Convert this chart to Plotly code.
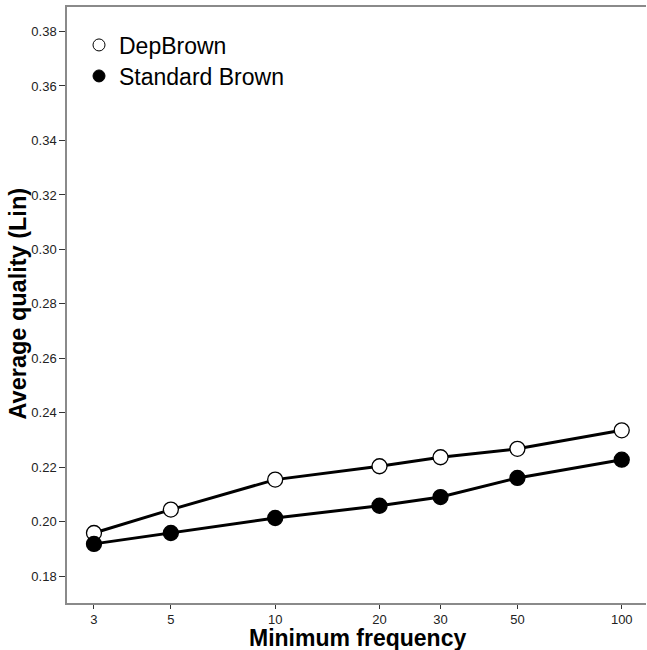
import plotly.graph_objects as go

freq = [3, 5, 10, 20, 30, 50, 100]
dep_brown = [0.1959, 0.2045, 0.2155, 0.2204, 0.2237, 0.2268, 0.2336]
std_brown = [0.1919, 0.1959, 0.2014, 0.2059, 0.2091, 0.2161, 0.2228]
y_ticks = [0.18, 0.20, 0.22, 0.24, 0.26, 0.28, 0.30, 0.32, 0.34, 0.36, 0.38]
series_names = ["DepBrown", "Standard Brown"]

FONT = "Liberation Sans, Arial, Helvetica, sans-serif"

fig = go.Figure()
# data lines
fig.add_trace(go.Scatter(x=freq, y=dep_brown, mode="lines+markers", showlegend=False,
                         line=dict(color="black", width=3),
                         marker=dict(symbol="circle", size=15, color="white",
                                     line=dict(color="black", width=1.3))))
fig.add_trace(go.Scatter(x=freq, y=std_brown, mode="lines+markers", showlegend=False,
                         line=dict(color="black", width=3),
                         marker=dict(symbol="circle", size=15, color="black",
                                     line=dict(color="black", width=1.3))))
# legend-only entries
fig.add_trace(go.Scatter(x=[None], y=[None], mode="markers", name=series_names[0],
                         legend="legend",
                         marker=dict(symbol="circle", size=12, color="white",
                                     line=dict(color="black", width=1))))
fig.add_trace(go.Scatter(x=[None], y=[None], mode="markers", name=series_names[1],
                         legend="legend2",
                         marker=dict(symbol="circle", size=12, color="black",
                                     line=dict(color="black", width=1))))

L, R, T, B = 67, 1, 7, 47
W, H = 647, 650
pw = W - L - R
ph = H - T - B

def px_x(p):
    return (p - L) / pw

def px_y(p):
    return (H - B - p) / ph

leg_common = dict(xanchor="left", yanchor="middle",
                  bgcolor="rgba(0,0,0,0)", borderwidth=0,
                  font=dict(family=FONT, size=23, color="black"),
                  itemsizing="trace")

fig.update_layout(
    width=W, height=H,
    margin=dict(l=L, r=R, t=T, b=B, pad=0),
    paper_bgcolor="white", plot_bgcolor="white",
    font=dict(family=FONT, color="black"),
    showlegend=True,
    legend=dict(x=px_x(79), y=px_y(45), **leg_common),
    legend2=dict(x=px_x(79), y=px_y(76), **leg_common),
    xaxis=dict(type="log", range=[0.3993, 2.070],
               tickmode="array", tickvals=freq, ticktext=[str(f) for f in freq],
               showgrid=False, zeroline=False,
               showline=True, linecolor="#8a8a8a", linewidth=1.5, mirror=True,
               ticks="outside", ticklen=4, tickwidth=1, tickcolor="#333333",
               tickfont=dict(family=FONT, size=13, color="#222222")),
    yaxis=dict(range=[0.1702, 0.389],
               tickmode="array", tickvals=y_ticks, ticktext=[f"{v:.2f}" for v in y_ticks],
               showgrid=False, zeroline=False,
               showline=True, linecolor="#8a8a8a", linewidth=1.5,
               ticks="outside", ticklen=6, tickwidth=1, tickcolor="#333333",
               tickfont=dict(family=FONT, size=13, color="#222222")),
    annotations=[
        dict(text="<b>Minimum frequency</b>", xref="paper", yref="paper",
             x=px_x(357.4), y=px_y(638), xanchor="center", yanchor="middle",
             showarrow=False, font=dict(family=FONT, size=23, color="black")),
        dict(text="<b>Average quality (Lin)</b>", xref="paper", yref="paper",
             x=px_x(17), y=px_y(303.5), xanchor="center", yanchor="middle",
             textangle=-90, showarrow=False,
             font=dict(family=FONT, size=23.5, color="black")),
    ],
)

fig.write_html("out.html", config={"displayModeBar": False},
               post_script="document.body.style.margin='0';document.body.style.padding='0';")
